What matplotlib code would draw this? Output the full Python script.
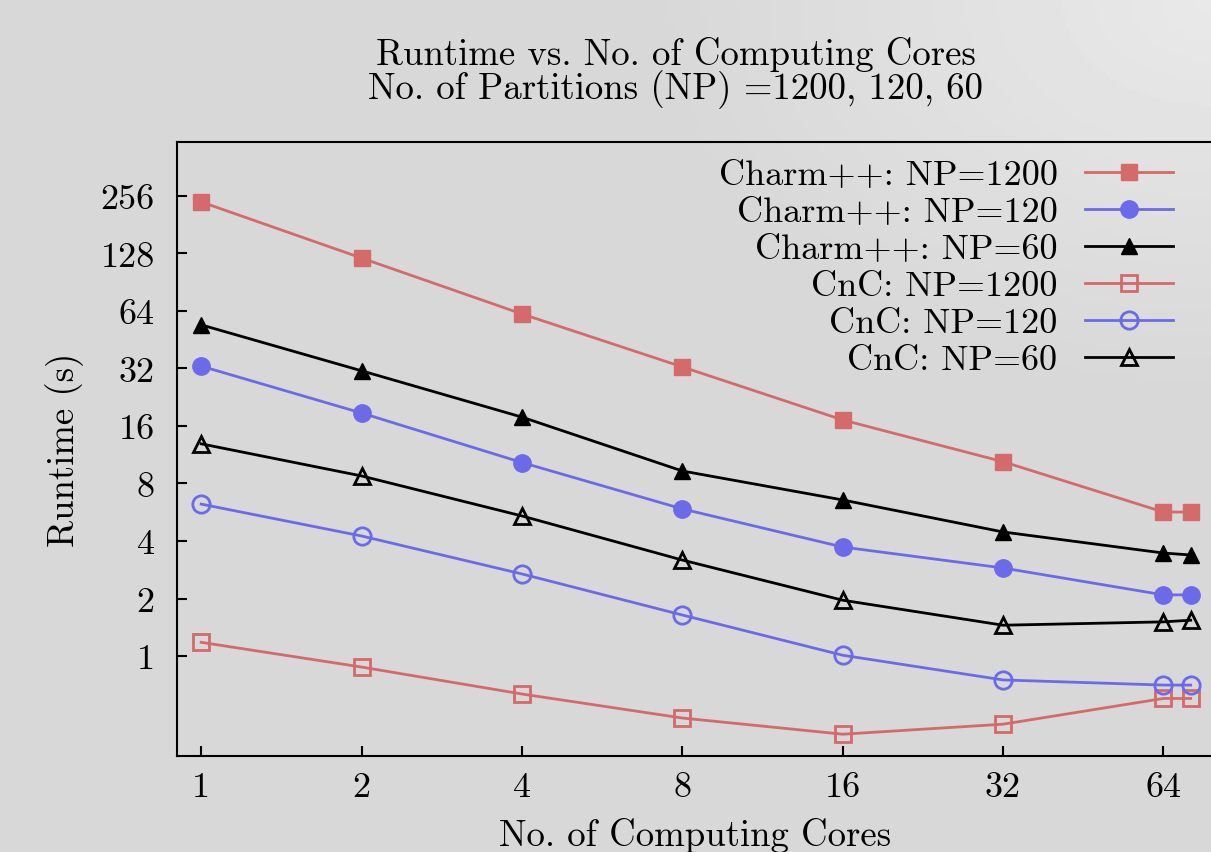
import numpy as np
import matplotlib
matplotlib.use("Agg")
import matplotlib.pyplot as plt

plt.rcParams['font.family'] = ['cmr10', 'DejaVu Serif']
plt.rcParams['axes.formatter.use_mathtext'] = True
plt.rcParams['mathtext.fontset'] = 'cm'

cores = [1, 2, 4, 8, 16, 32, 64, 72]

charm_1200 = [238, 121, 61.7, 32.6, 17.2, 10.4, 5.67, 5.67]
charm_120 = [32.9, 18.7, 10.3, 5.89, 3.72, 2.89, 2.09, 2.09]
charm_60 = [54.1, 31.1, 17.8, 9.3, 6.56, 4.46, 3.46, 3.38]
cnc_1200 = [1.18, 0.876, 0.633, 0.474, 0.39, 0.44, 0.60, 0.60]
cnc_120 = [6.24, 4.25, 2.69, 1.64, 1.01, 0.75, 0.705, 0.705]
cnc_60 = [12.9, 8.76, 5.41, 3.18, 1.96, 1.45, 1.51, 1.54]

xticks = [1, 2, 4, 8, 16, 32, 64]
yticks = [1, 2, 4, 8, 16, 32, 64, 128, 256]

red = '#d46a6a'
blue = '#6b6bea'
black = '#000000'

fig = plt.figure(figsize=(12.11, 8.53), dpi=100)
fig.patch.set_facecolor('#d8d8d8')

# soft lighter gradient towards the top-right corner
bg = fig.add_axes([0, 0, 1, 1], zorder=-10)
gx, gy = np.meshgrid(np.linspace(0, 1, 300), np.linspace(1, 0, 200))
d = np.clip(1 - np.hypot(1 - gx, 1 - gy) / 0.45, 0, 1)
grad = 0.847 + 0.065 * d
bg.imshow(grad, cmap='gray', vmin=0, vmax=1, aspect='auto', extent=[0, 1, 0, 1])
bg.axis('off')

ax = fig.add_axes([0.1462, 0.1125, 0.855, 0.7199])
ax.patch.set_alpha(0)

lw = 2.0
ax.plot(cores, charm_1200, color=red, lw=lw, marker='s', ms=12, label='Charm++: NP=1200')
ax.plot(cores, charm_120, color=blue, lw=lw, marker='o', ms=12.5, label='Charm++: NP=120')
ax.plot(cores, charm_60, color=black, lw=lw, marker='^', ms=11, label='Charm++: NP=60')
ax.plot(cores, cnc_1200, color=red, lw=lw, marker='s', ms=12, mfc='none', mew=2, label='CnC: NP=1200')
ax.plot(cores, cnc_120, color=blue, lw=lw, marker='o', ms=12.5, mfc='none', mew=2, label='CnC: NP=120')
ax.plot(cores, cnc_60, color=black, lw=lw, marker='^', ms=11, mfc='none', mew=2, label='CnC: NP=60')

ax.set_xscale('log', base=2)
ax.set_yscale('log', base=2)
ax.set_xlim(0.901, 79.1)
ax.set_ylim(0.2998, 490)
ax.set_xticks(xticks)
ax.set_xticklabels([str(v) for v in xticks])
ax.set_yticks(yticks)
ax.set_yticklabels([str(v) for v in yticks])
ax.minorticks_off()
ax.tick_params(direction='in', length=7, width=1.5, labelsize=26)
ax.tick_params(axis='x', pad=11)
ax.tick_params(axis='y', pad=16)
for s in ax.spines.values():
    s.set_linewidth(1.5)

ax.set_xlabel('No. of Computing Cores', fontsize=26.5, labelpad=10)
ax.set_ylabel('Runtime (s)', fontsize=26.5, labelpad=12)
fig.text(0.558, 1 - 55 / 853, 'Runtime vs. No. of Computing Cores',
         ha='center', va='center', fontsize=26.5)
fig.text(0.558, 1 - 90 / 853, 'No. of Partitions (NP) =1200, 120, 60',
         ha='center', va='center', fontsize=26.5)

ax.legend(loc='upper right', bbox_to_anchor=(0.962, 0.972), markerfirst=False, frameon=False,
          fontsize=26, handlelength=2.45, handletextpad=0.75, labelspacing=0.13,
          borderpad=0, borderaxespad=0)

fig.savefig('out.png', dpi=100, facecolor=fig.get_facecolor())
